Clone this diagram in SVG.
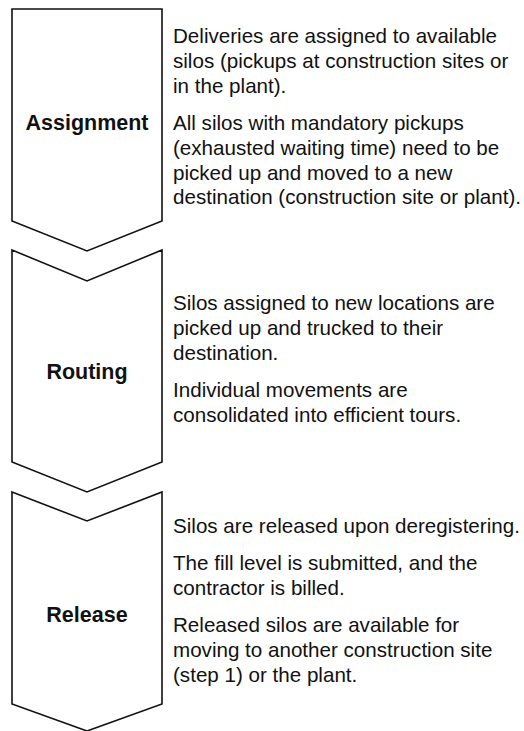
<svg xmlns="http://www.w3.org/2000/svg" width="524" height="731" viewBox="0 0 524 731">
  <style>
    .step { fill: #ffffff; stroke: #111111; stroke-width: 1.6; stroke-linejoin: miter; }
    .label { font-family: "Liberation Sans", Arial, sans-serif; font-weight: bold; font-size: 21.5px; fill: #111111; text-anchor: middle; }
    .desc { font-family: "Liberation Sans", Arial, sans-serif; font-size: 20.6px; fill: #111111; }
  </style>
  <rect width="524" height="731" fill="#ffffff"/>

  <!-- Step 1: flat-topped chevron -->
  <g id="assignment">
    <path class="step" d="M12,9 H162 V221 L87,251 L12,221 Z"/>
    <text class="label" x="87" y="130">Assignment</text>
    <text class="desc">
      <tspan x="173" y="43">Deliveries are assigned to available</tspan>
      <tspan x="173" y="68">silos (pickups at construction sites or</tspan>
      <tspan x="173" y="93">in the plant).</tspan>
      <tspan x="173" y="130">All silos with mandatory pickups</tspan>
      <tspan x="173" y="155">(exhausted waiting time) need to be</tspan>
      <tspan x="173" y="180">picked up and moved to a new</tspan>
      <tspan x="173" y="204">destination (construction site or plant).</tspan>
    </text>
  </g>

  <!-- Step 2: notched chevron -->
  <g id="routing">
    <path class="step" d="M12,250 L87,281 L162,250 V462 L87,492 L12,462 Z"/>
    <text class="label" x="87" y="379">Routing</text>
    <text class="desc">
      <tspan x="173" y="310">Silos assigned to new locations are</tspan>
      <tspan x="173" y="335">picked up and trucked to their</tspan>
      <tspan x="173" y="360">destination.</tspan>
      <tspan x="173" y="397">Individual movements are</tspan>
      <tspan x="173" y="422">consolidated into efficient tours.</tspan>
    </text>
  </g>

  <!-- Step 3: notched chevron -->
  <g id="release">
    <path class="step" d="M12,492 L87,521 L162,492 V704 L87,731 L12,704 Z"/>
    <text class="label" x="87" y="622">Release</text>
    <text class="desc">
      <tspan x="173" y="533">Silos are released upon deregistering.</tspan>
      <tspan x="173" y="570">The fill level is submitted, and the</tspan>
      <tspan x="173" y="595">contractor is billed.</tspan>
      <tspan x="173" y="632">Released silos are available for</tspan>
      <tspan x="173" y="657">moving to another construction site</tspan>
      <tspan x="173" y="682">(step 1) or the plant.</tspan>
    </text>
  </g>

  <g id="connectors"/>
</svg>
